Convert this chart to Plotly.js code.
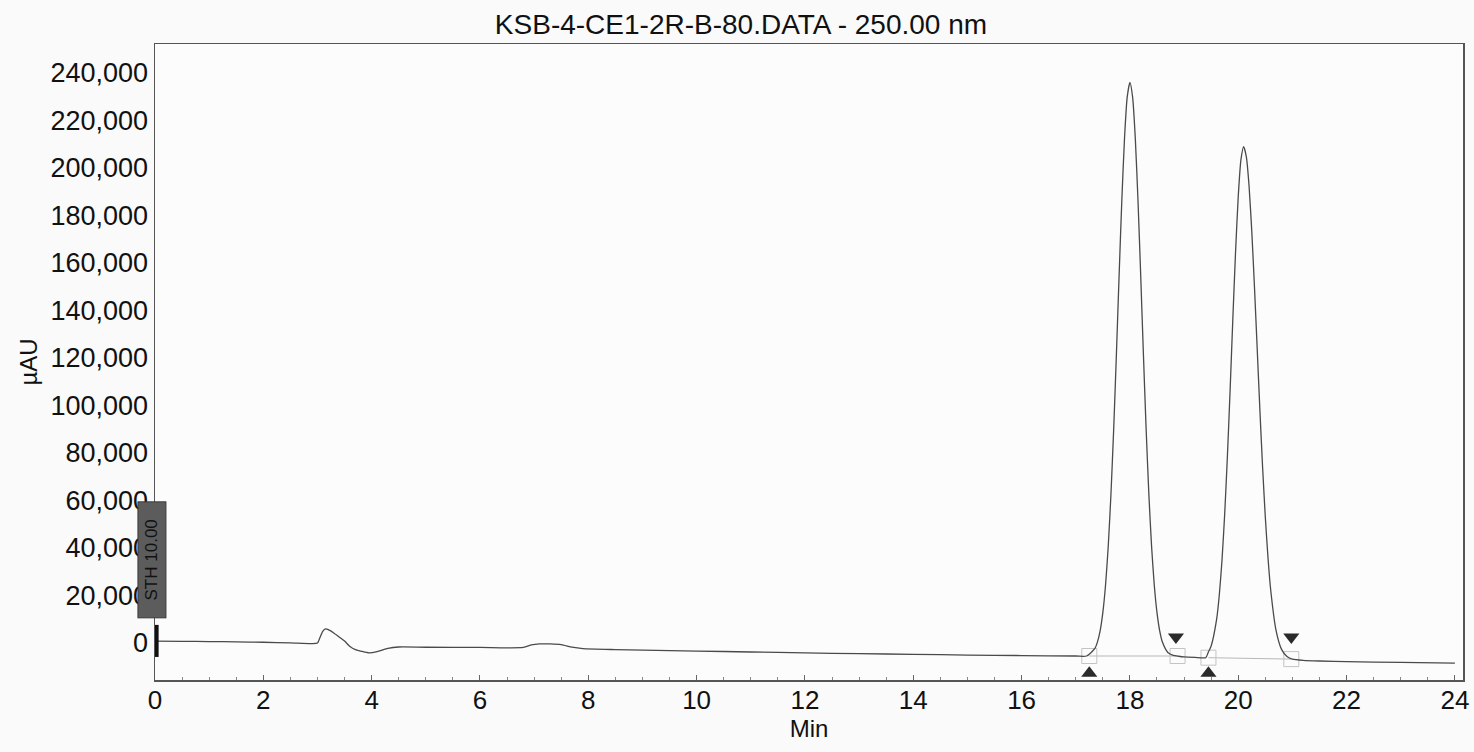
<!DOCTYPE html>
<html>
<head>
<meta charset="utf-8">
<script src="https://cdn.plot.ly/plotly-3.0.1.min.js"></script>
<style>html,body{margin:0;padding:0;background:#fafafa;}#chart{width:1474px;height:752px;}</style>
</head>
<body>
<div id="chart"></div>
<script>
// Chromatogram trace (retention time in min, signal in µAU)
const timeMin = [0,0.5,1,1.5,2,2.5,2.9,3.0,3.05,3.1,3.15,3.2,3.3,3.4,3.5,3.6,3.7,3.8,3.95,4.1,4.3,4.5,5,6,6.8,6.95,7.1,7.3,7.5,7.7,7.9,8.5,9,10,11,12,13,14,15,16,17,17.2,17.35,17.4,17.45,17.5,17.55,17.6,17.65,17.7,17.75,17.8,17.85,17.9,17.95,18.0,18.05,18.1,18.15,18.2,18.25,18.3,18.35,18.4,18.45,18.5,18.55,18.6,18.7,18.8,18.9,19.0,19.2,19.4,19.45,19.5,19.6,19.65,19.7,19.75,19.8,19.85,19.9,19.95,20.0,20.05,20.1,20.15,20.2,20.25,20.3,20.35,20.4,20.45,20.5,20.55,20.6,20.7,20.8,20.9,21.0,21.2,21.5,22,23,24];
const signalUAU = [800,700,600,450,300,0,-300,0,2500,5000,5900,5600,4200,2500,800,-1500,-2800,-3400,-4200,-3700,-2300,-1700,-1800,-1900,-1900,-800,-400,-400,-700,-1800,-2400,-2800,-3000,-3400,-3800,-4200,-4500,-4800,-5100,-5300,-5500,-5500,-2430,360,5100,12800,24300,40700,62600,89800,121100,154300,185900,212300,229800,236000,229800,212300,185900,154300,121100,89800,62600,40700,24300,12800,5100,360,-4000,-5200,-5600,-5900,-6100,-6200,-3760,-1300,9800,20100,34700,54300,78600,106400,136200,164300,187900,203500,209000,204700,192400,173400,149800,124000,98100,74000,53000,35800,22200,5100,-2700,-5700,-6800,-7300,-7600,-7900,-8200,-8500];

// Integration events
const peakStartTimes = [17.25, 19.45];
const peakStartLevels = [-12800, -12800];
const peakEndTimes = [18.85, 20.98];
const peakEndLevels = [2500, 2500];
const baselineTimes1 = [17.25, 18.88];
const baselineLevels1 = [-5500, -5500];
const baselineTimes2 = [19.45, 20.98];
const baselineLevels2 = [-6200, -6800];
const boxTimes = [17.25, 18.88, 19.45, 20.98];
const boxLevels = [-5500, -5500, -6200, -6800];

const xTickVals = [0,2,4,6,8,10,12,14,16,18,20,22,24];
const yTickVals = [0,20000,40000,60000,80000,100000,120000,140000,160000,180000,200000,220000,240000];
const yTickText = ['0','20,000','40,000','60,000','80,000','100,000','120,000','140,000','160,000','180,000','200,000','220,000','240,000'];

const titleText = 'KSB-4-CE1-2R-B-80.DATA - 250.00 nm';
const stLabel = 'STH 10.00';

const fontFam = '"Liberation Sans", Arial, sans-serif';

const traces = [
  {x: baselineTimes1, y: baselineLevels1, mode: 'lines', line: {color: '#b8b8b8', width: 1}, hoverinfo: 'skip', showlegend: false},
  {x: baselineTimes2, y: baselineLevels2, mode: 'lines', line: {color: '#b8b8b8', width: 1}, hoverinfo: 'skip', showlegend: false},
  {x: boxTimes, y: boxLevels, mode: 'markers', marker: {symbol: 'square-open', size: 15, color: '#c4c4c4', line: {width: 1}}, showlegend: false},
  {x: timeMin, y: signalUAU, mode: 'lines', line: {color: '#4a4a4a', width: 1.3, shape: 'spline', smoothing: 0.6}, showlegend: false},
  {x: peakStartTimes, y: peakStartLevels, mode: 'markers', marker: {symbol: 'triangle-up', size: 14, color: '#2a2a2a'}, showlegend: false, cliponaxis: false},
  {x: peakEndTimes, y: peakEndLevels, mode: 'markers', marker: {symbol: 'triangle-down', size: 14, color: '#2a2a2a'}, showlegend: false}
];

const layout = {
  width: 1474, height: 752,
  paper_bgcolor: '#fafafa', plot_bgcolor: '#fcfcfc',
  margin: {l: 155, r: 11, t: 44, b: 72},
  font: {family: fontFam, color: '#111'},
  title: {text: titleText, font: {family: fontFam, size: 28, color: '#111'}, x: 741/1474, xref: 'container', xanchor: 'center', y: 1 - 24/752, yref: 'container', yanchor: 'middle'},
  xaxis: {
    range: [0, 24.15], tickvals: xTickVals, ticktext: xTickVals.map(String),
    tickfont: {size: 26, color: '#111'}, ticks: 'inside', ticklen: 5, tickcolor: '#666', ticklabelstandoff: -4,
    minor: {dtick: 0.5, ticks: 'inside', ticklen: 3, tickcolor: '#888'},
    showgrid: false, zeroline: false, showline: true, linecolor: '#555', linewidth: 1.5, mirror: true,
    title: {text: 'Min', font: {size: 24, color: '#111'}, standoff: 0}
  },
  yaxis: {
    range: [-15600, 252200], tickvals: yTickVals, ticktext: yTickText,
    tickfont: {size: 27, color: '#111'}, ticks: '', ticklabelstandoff: 0,
    showgrid: false, zeroline: false, showline: true, linecolor: '#555', linewidth: 1.5, mirror: true,
    title: {text: 'µAU', font: {size: 24, color: '#111'}, standoff: 6}
  },
  shapes: [
    {type: 'line', xref: 'x', yref: 'y', x0: 0.03, x1: 0.03, y0: 7600, y1: -5900, line: {color: '#111', width: 4}}
  ],
  annotations: [
    {text: stLabel, xref: 'paper', yref: 'y', x: -0.002, y: 34950, xanchor: 'center', yanchor: 'middle', showarrow: false, textangle: -90,
     font: {size: 17, color: '#111'}, bgcolor: '#5c5c5c', bordercolor: '#3a3a3a', borderwidth: 1, borderpad: 1,
     width: 113, height: 25}
  ]
};

Plotly.newPlot('chart', traces, layout, {displayModeBar: false, staticPlot: true});
</script>
</body>
</html>
